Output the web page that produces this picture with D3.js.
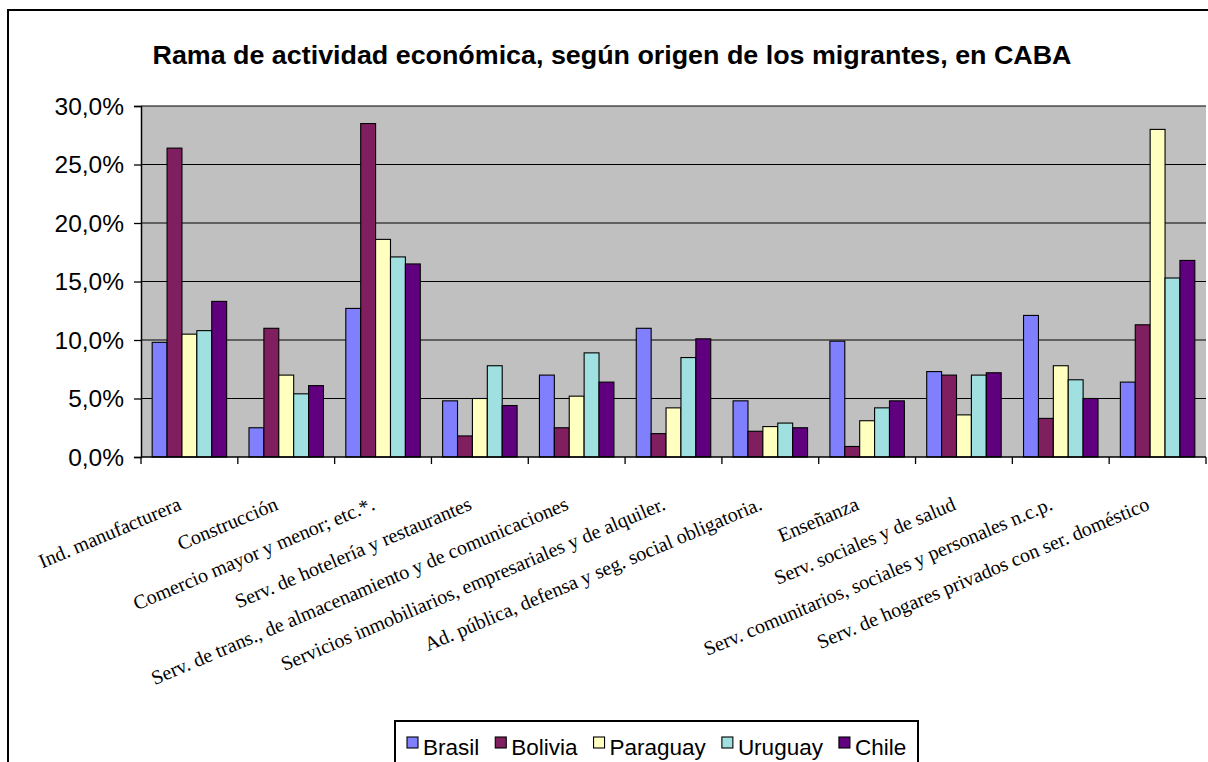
<!DOCTYPE html>
<html>
<head>
<meta charset="utf-8">
<script src="https://cdn.jsdelivr.net/npm/d3@7"></script>
<style>
  html, body { margin: 0; padding: 0; background: #fff; }
  svg { display: block; }
</style>
</head>
<body>
<svg id="chart" width="1208" height="762"></svg>
<script>
// Ramas de actividad (categorías del eje X)
const categories = [
  "Ind. manufacturera",
  "Construcción",
  "Comercio mayor y menor; etc.*.",
  "Serv. de hotelería y restaurantes",
  "Serv. de trans., de almacenamiento y de comunicaciones",
  "Servicios inmobiliarios, empresariales y de alquiler.",
  "Ad. pública, defensa y seg. social obligatoria.",
  "Enseñanza",
  "Serv. sociales y de salud",
  "Serv. comunitarios, sociales y personales n.c.p.",
  "Serv. de hogares privados con ser. doméstico"
];

// Origen de los migrantes
const seriesNames = ["Brasil", "Bolivia", "Paraguay", "Uruguay", "Chile"];

// Porcentaje de ocupados por rama, según origen
const brasil   = [9.8, 2.5, 12.7, 4.8, 7.0, 11.0, 4.8, 9.9, 7.3, 12.1, 6.4];
const bolivia  = [26.4, 11.0, 28.5, 1.8, 2.5, 2.0, 2.2, 0.9, 7.0, 3.3, 11.3];
const paraguay = [10.5, 7.0, 18.6, 5.0, 5.2, 4.2, 2.6, 3.1, 3.6, 7.8, 28.0];
const uruguay  = [10.8, 5.4, 17.1, 7.8, 8.9, 8.5, 2.9, 4.2, 7.0, 6.6, 15.3];
const chile    = [13.3, 6.1, 16.5, 4.4, 6.4, 10.1, 2.5, 4.8, 7.2, 5.0, 16.8];

const yTicks = [0, 5, 10, 15, 20, 25, 30];

const seriesValues = [brasil, bolivia, paraguay, uruguay, chile];
const colors = ["#8080FF", "#7F1F5F", "#FFFFC0", "#A0E0E0", "#60007F"];

const svg = d3.select("#chart");

// Marco exterior del gráfico
svg.append("rect")
  .attr("x", 8).attr("y", 10)
  .attr("width", 1220).attr("height", 780)
  .attr("fill", "#fff")
  .attr("stroke", "#000").attr("stroke-width", 2);

const plot = { left: 141, right: 1206, top: 106, bottom: 457 };

const x = d3.scaleBand()
  .domain(categories)
  .range([plot.left, plot.right])
  .paddingInner(0).paddingOuter(0);

const xs = d3.scaleBand()
  .domain(seriesNames)
  .range([0, x.bandwidth()])
  .paddingInner(0).paddingOuter(0.75);

const y = d3.scaleLinear()
  .domain([0, 30])
  .range([plot.bottom, plot.top]);

const locale = d3.formatLocale({ decimal: ",", thousands: ".", grouping: [3], currency: ["$", ""] });
const fmt = locale.format(".1f");

// Fondo del área de trazado
svg.append("rect")
  .attr("x", plot.left).attr("y", plot.top)
  .attr("width", plot.right - plot.left)
  .attr("height", plot.bottom - plot.top)
  .attr("fill", "#C0C0C0");

// Líneas de división
svg.append("g")
  .selectAll("line")
  .data(yTicks.filter(d => d > 0))
  .join("line")
  .attr("x1", plot.left).attr("x2", plot.right)
  .attr("y1", d => y(d)).attr("y2", d => y(d))
  .attr("stroke", "#000").attr("stroke-width", 1.2);

// Barras
const groups = svg.append("g")
  .selectAll("g")
  .data(seriesNames.map((name, i) => ({ name, values: seriesValues[i], color: colors[i] })))
  .join("g")
  .attr("fill", d => d.color);

groups.selectAll("rect")
  .data(d => d.values.map((v, j) => ({ name: d.name, cat: categories[j], v })))
  .join("rect")
  .attr("x", d => x(d.cat) + xs(d.name))
  .attr("y", d => y(d.v))
  .attr("width", xs.bandwidth())
  .attr("height", d => y(0) - y(d.v))
  .attr("stroke", "#000")
  .attr("stroke-width", 1.1);

// Eje Y
const yAxis = svg.append("g")
  .attr("transform", `translate(${plot.left},0)`)
  .call(d3.axisLeft(y).tickValues(yTicks).tickSize(7).tickPadding(10)
    .tickFormat(d => fmt(d) + "%"));
yAxis.select(".domain").attr("stroke", "#000").attr("stroke-width", 1.5);
yAxis.selectAll(".tick line").attr("stroke", "#000").attr("stroke-width", 1.3);
yAxis.selectAll(".tick text")
  .attr("font-family", "Arial, 'Liberation Sans', sans-serif")
  .attr("font-size", 24.5)
  .attr("fill", "#000")
  .attr("dy", "0.34em");

// Eje X: línea base y marcas entre categorías
svg.append("line")
  .attr("x1", plot.left).attr("x2", plot.right)
  .attr("y1", y(0)).attr("y2", y(0))
  .attr("stroke", "#000").attr("stroke-width", 1.5);

const boundaries = categories.map(c => x(c)).concat([x.range()[1]]);
svg.append("g")
  .selectAll("line")
  .data(boundaries)
  .join("line")
  .attr("x1", d => d).attr("x2", d => d)
  .attr("y1", y(0)).attr("y2", y(0) + 7)
  .attr("stroke", "#000").attr("stroke-width", 1.3);

// Rótulos de categoría inclinados
svg.append("g")
  .selectAll("text")
  .data(categories)
  .join("text")
  .attr("transform", d => `translate(${x(d) + x.bandwidth() / 2 - 7},${y(0) + 52}) rotate(-23)`)
  .attr("text-anchor", "end")
  .attr("font-family", "'Times New Roman', 'Liberation Serif', serif")
  .attr("font-size", 20)
  .attr("fill", "#000")
  .text(d => d);

// Título
svg.append("text")
  .attr("x", 612).attr("y", 64)
  .attr("text-anchor", "middle")
  .attr("font-family", "Arial, 'Liberation Sans', sans-serif")
  .attr("font-weight", "bold")
  .attr("font-size", 25)
  .attr("textLength", 919)
  .attr("lengthAdjust", "spacingAndGlyphs")
  .attr("fill", "#000")
  .text("Rama de actividad económica, según origen de los migrantes, en CABA");

// Leyenda
const legend = svg.append("g");
legend.append("rect")
  .attr("x", 395).attr("y", 721)
  .attr("width", 523).attr("height", 60)
  .attr("fill", "#fff")
  .attr("stroke", "#000").attr("stroke-width", 2);

let lx = 407;
seriesNames.forEach((name, i) => {
  legend.append("rect")
    .attr("x", lx).attr("y", 737)
    .attr("width", 11).attr("height", 11)
    .attr("fill", colors[i])
    .attr("stroke", "#000").attr("stroke-width", 1.1);
  const t = legend.append("text")
    .attr("x", lx + 16).attr("y", 755)
    .attr("font-family", "Arial, 'Liberation Sans', sans-serif")
    .attr("font-size", 22.5)
    .attr("fill", "#000")
    .text(name);
  lx = lx + 16 + t.node().getComputedTextLength() + 16;
});
</script>
</body>
</html>
